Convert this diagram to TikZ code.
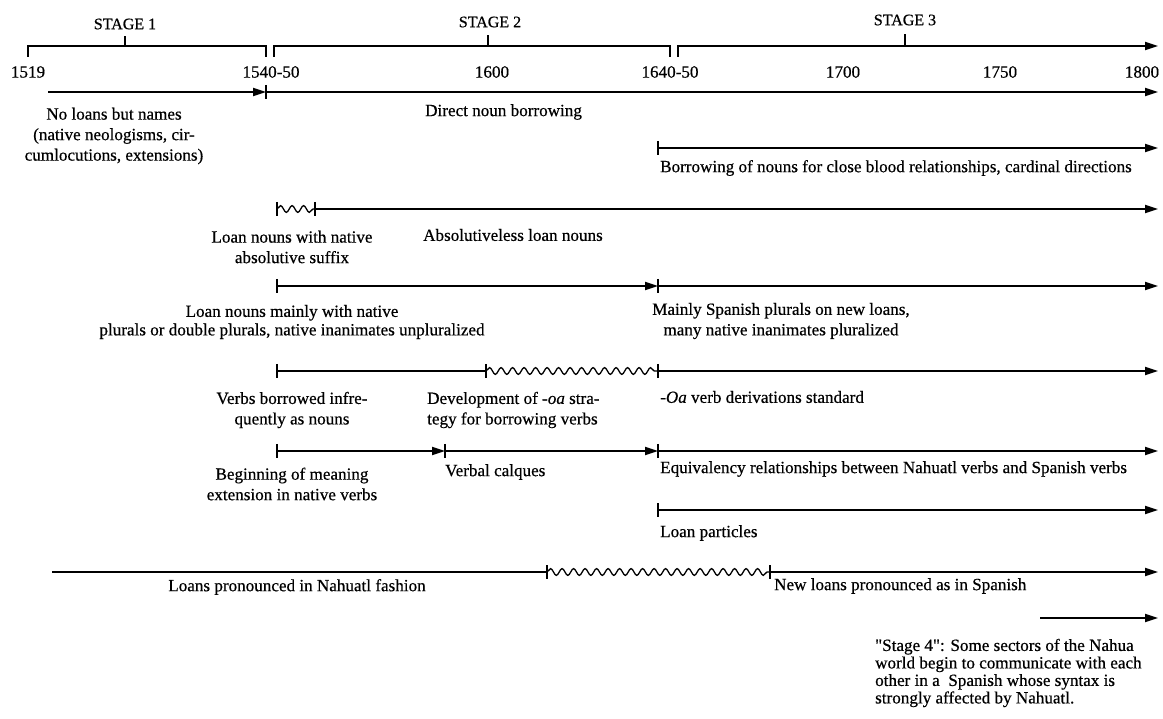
\documentclass[tikz,border=0pt]{standalone}
\usepackage{fontspec}
\setmainfont{Liberation Serif}[FakeBold=0.5]
\usetikzlibrary{arrows.meta,decorations.pathmorphing}
\newcommand\vtick[1]{\draw[tl] ([yshift=7pt]#1) -- ([yshift=-7pt]#1);}
\newcommand\sq{{\addfontfeatures{Ligatures=TeXOff}"}}
\begin{document}
\begin{tikzpicture}[x=1pt,y=-1pt,
  tl/.style={line width=1.8pt},
  arr/.style={tl,-{Triangle[length=13pt,width=8pt]}},
  wavy/.style={line width=1.3pt,decorate,decoration={snake,segment length=11.5pt,amplitude=3.4pt}},
  lbl/.style={inner sep=0pt,font=\fontsize{17.1}{20.5}\selectfont},
  lc/.style={lbl,align=center},
  ll/.style={lbl,anchor=west,align=left},
  stg/.style={inner sep=0pt,font=\fontsize{16}{18}\selectfont},
]
\useasboundingbox (0,0) rectangle (1163,719);
\fill[white] (0,0) rectangle (1163,719);

% ---------- stage brackets ----------
\coordinate (s1a) at (28,57);  \coordinate (s1b) at (28,46);
\coordinate (s1c) at (266,46); \coordinate (s1d) at (266,57);
\coordinate (s1m) at (125,46); \coordinate (s1t) at (125,36);
\coordinate (s2a) at (274,57); \coordinate (s2b) at (274,46);
\coordinate (s2c) at (670,46); \coordinate (s2d) at (670,57);
\coordinate (s2m) at (488,46); \coordinate (s2t) at (488,35);
\coordinate (s3a) at (678,57); \coordinate (s3b) at (678,46);
\coordinate (s3c) at (1158,46);
\coordinate (s3m) at (905,46); \coordinate (s3t) at (905,34);
\draw[tl] (s1a) -- (s1b) -- (s1c) -- (s1d);
\draw[tl] (s1m) -- (s1t);
\draw[tl] (s2a) -- (s2b) -- (s2c) -- (s2d);
\draw[tl] (s2m) -- (s2t);
\draw[arr] (s3a) -- (s3b) -- (s3c);
\draw[tl] (s3m) -- (s3t);
\node[stg] (st1) at (125,24) {STAGE 1};
\node[stg] (st2) at (490,22) {STAGE 2};
\node[stg] (st3) at (905,20) {STAGE 3};

% ---------- years ----------
\node[lbl] (y1519) at (28,72) {1519};
\node[lbl] (y1540) at (271,72) {1540-50};
\node[lbl] (y1600) at (492,72) {1600};
\node[lbl] (y1640) at (670,72) {1640-50};
\node[lbl] (y1700) at (843,72) {1700};
\node[lbl] (y1750) at (1000,72) {1750};
\node[lbl] (y1800) at (1142,72) {1800};

% ---------- row 1 ----------
\coordinate (r1a) at (48,92); \coordinate (r1b) at (266,92); \coordinate (r1c) at (1158,92);
\draw[arr] (r1a) -- (r1b);
\vtick{r1b}
\draw[arr] (r1b) -- (r1c);
\node[lc] (l1a) at (114,136) {No loans but names\\(native neologisms, cir-\\cumlocutions, extensions)};
\node[ll] (l1b) at (425,112) {Direct noun borrowing};

% ---------- row 2 ----------
\coordinate (r2a) at (658,148); \coordinate (r2b) at (1158,148);
\vtick{r2a}
\draw[arr] (r2a) -- (r2b);
\node[ll] (l2) at (660,168) {Borrowing of nouns for close blood relationships, cardinal directions};

% ---------- row 3 ----------
\coordinate (r3a) at (277,209); \coordinate (r3b) at (315,209); \coordinate (r3c) at (1158,209);
\vtick{r3a}
\draw[wavy] (r3a) -- (r3b);
\vtick{r3b}
\draw[arr] (r3b) -- (r3c);
\node[lc] (l3a) at (292,247) {Loan nouns with native\\absolutive suffix};
\node[ll] (l3b) at (423,235) {Absolutiveless loan nouns};

% ---------- row 4 ----------
\coordinate (r4a) at (277,286); \coordinate (r4b) at (658,286); \coordinate (r4c) at (1158,286);
\vtick{r4a}
\draw[arr] (r4a) -- (r4b);
\vtick{r4b}
\draw[arr] (r4b) -- (r4c);
\node[lc,font=\fontsize{17.1}{18.5}\selectfont] (l4a) at (292,322) {Loan nouns mainly with native\\plurals or double plurals, native inanimates unpluralized};
\node[lc] (l4b) at (781,321) {Mainly Spanish plurals on new loans,\\many native inanimates pluralized};

% ---------- row 5 ----------
\coordinate (r5a) at (277,371); \coordinate (r5b) at (486,371); \coordinate (r5c) at (658,371); \coordinate (r5d) at (1158,371);
\vtick{r5a}
\draw[tl] (r5a) -- (r5b);
\vtick{r5b}
\draw[wavy] (r5b) -- (r5c);
\vtick{r5c}
\draw[arr] (r5c) -- (r5d);
\node[lc] (l5a) at (292,410) {Verbs borrowed infre-\\quently as nouns};
\node[ll] (l5b) at (427,410) {Development of \textit{-oa} stra-\\tegy for borrowing verbs};
\node[ll] (l5c) at (660,397) {\textit{-Oa} verb derivations standard};

% ---------- row 6 ----------
\coordinate (r6a) at (277,451); \coordinate (r6b) at (445,451); \coordinate (r6c) at (658,451); \coordinate (r6d) at (1158,451);
\vtick{r6a}
\draw[arr] (r6a) -- (r6b);
\vtick{r6b}
\draw[arr] (r6b) -- (r6c);
\vtick{r6c}
\draw[arr] (r6c) -- (r6d);
\node[lc] (l6a) at (292,484) {Beginning of meaning\\extension in native verbs};
\node[ll] (l6b) at (445,472) {Verbal calques};
\node[ll] (l6c) at (660,469) {Equivalency relationships between Nahuatl verbs and Spanish verbs};

% ---------- row 7 ----------
\coordinate (r7a) at (658,510); \coordinate (r7b) at (1158,510);
\vtick{r7a}
\draw[arr] (r7a) -- (r7b);
\node[ll] (l7) at (660,533) {Loan particles};

% ---------- row 8 ----------
\coordinate (r8a) at (52,572); \coordinate (r8b) at (547,572); \coordinate (r8c) at (770,572); \coordinate (r8d) at (1158,572);
\draw[tl] (r8a) -- (r8b);
\vtick{r8b}
\draw[wavy] (r8b) -- (r8c);
\vtick{r8c}
\draw[arr] (r8c) -- (r8d);
\node[lc] (l8a) at (297,587) {Loans pronounced in Nahuatl fashion};
\node[ll] (l8b) at (774,586) {New loans pronounced as in Spanish};

% ---------- row 9 ----------
\coordinate (r9a) at (1040,618); \coordinate (r9b) at (1158,618);
\draw[arr] (r9a) -- (r9b);
\node[ll,font=\fontsize{17.1}{17.5}\selectfont] (l9) at (875,673) {\sq Stage 4\sq: Some sectors of the Nahua\\world begin to communicate with each\\other in a~ Spanish whose syntax is\\strongly affected by Nahuatl.};
\end{tikzpicture}
\end{document}
